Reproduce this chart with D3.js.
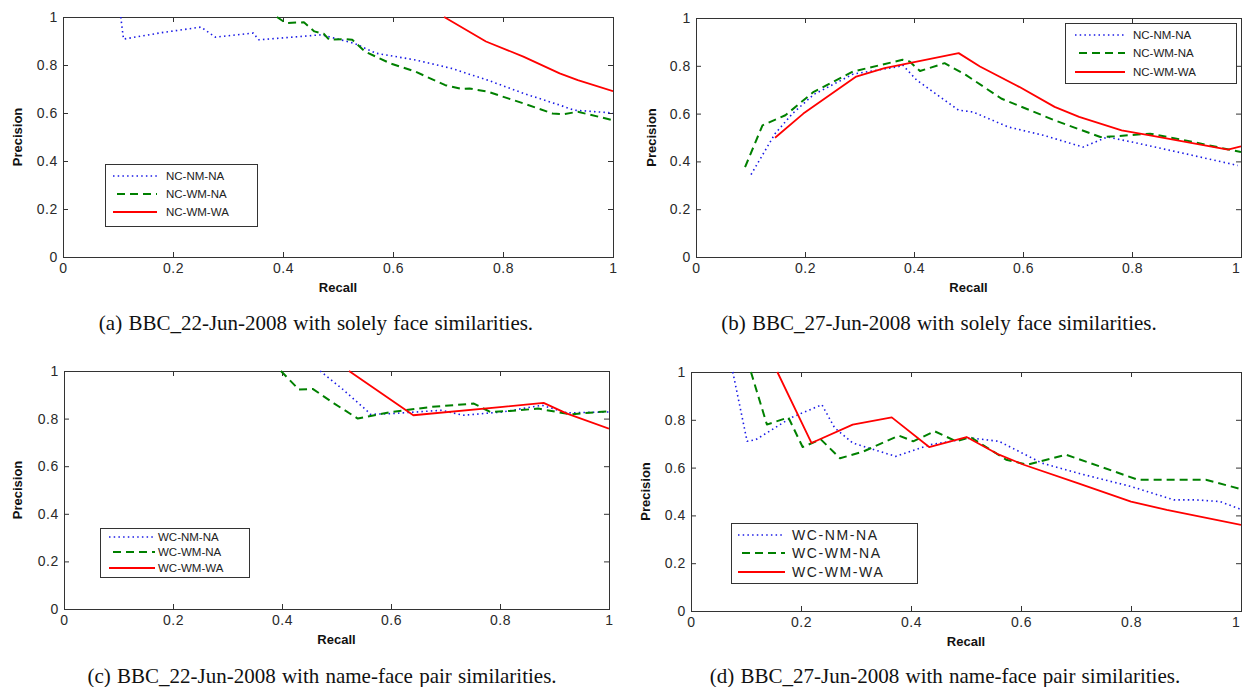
<!DOCTYPE html>
<html>
<head>
<meta charset="utf-8">
<script src="https://cdn.jsdelivr.net/npm/d3@7"></script>
<style>
  body { margin: 0; background: #fff; }
  svg { display: block; }
  .tick text { font-family: "Liberation Sans", Arial, sans-serif; font-size: 14px; letter-spacing: 0.6px; fill: #2a2a2a; }
  .tick line { stroke: #333; }
  .frame { fill: none; stroke: #333; stroke-width: 1; }
  .axlabel { font-family: "Liberation Sans", Arial, sans-serif; font-size: 13px; font-weight: bold; fill: #111; }
  .caption { font-family: "Liberation Serif", "Times New Roman", serif; font-size: 21px; word-spacing: 1px; fill: #111; }
  .legtext { font-family: "Liberation Sans", Arial, sans-serif; fill: #222; }
</style>
</head>
<body>
<svg id="chart" width="1243" height="687"></svg>
<script>
// recall / precision pairs
// (a) BBC_22-Jun-2008, face similarities
var a_nm_na = [[0.105,1.0],[0.11,0.908],[0.18,0.935],[0.251,0.958],[0.277,0.916],[0.346,0.933],[0.356,0.905],[0.47,0.926],[0.53,0.89],[0.569,0.849],[0.641,0.821],[0.706,0.786],[0.772,0.737],[0.837,0.682],[0.903,0.633],[0.929,0.612],[1.0,0.6]];
var a_wm_na = [[0.389,1.0],[0.405,0.975],[0.438,0.978],[0.457,0.94],[0.474,0.93],[0.484,0.905],[0.51,0.908],[0.526,0.905],[0.549,0.856],[0.595,0.807],[0.641,0.772],[0.695,0.716],[0.726,0.7],[0.739,0.702],[0.772,0.689],[0.837,0.64],[0.89,0.598],[0.909,0.595],[0.936,0.605],[1.0,0.57]];
var a_wm_wa = [[0.693,1.0],[0.769,0.898],[0.837,0.835],[0.903,0.765],[0.936,0.737],[1.0,0.691]];

// (b) BBC_27-Jun-2008, face similarities
var b_nm_na = [[0.101,0.345],[0.145,0.516],[0.177,0.6],[0.216,0.68],[0.288,0.765],[0.372,0.797],[0.379,0.804],[0.405,0.74],[0.482,0.614],[0.508,0.607],[0.573,0.544],[0.638,0.509],[0.71,0.46],[0.755,0.502],[0.8,0.481],[0.898,0.432],[0.994,0.383]];
var b_wm_na = [[0.09,0.376],[0.122,0.551],[0.164,0.593],[0.216,0.691],[0.288,0.776],[0.379,0.825],[0.392,0.818],[0.411,0.778],[0.456,0.811],[0.495,0.762],[0.56,0.663],[0.658,0.572],[0.742,0.502],[0.768,0.505],[0.833,0.516],[0.898,0.488],[1.0,0.439]];
var b_wm_wa = [[0.145,0.499],[0.197,0.6],[0.294,0.755],[0.346,0.79],[0.482,0.853],[0.521,0.797],[0.593,0.712],[0.658,0.628],[0.703,0.586],[0.781,0.53],[0.833,0.509],[0.976,0.449],[1.0,0.463]];

// (c) BBC_22-Jun-2008, name-face pair similarities
var c_nm_na = [[0.47,1.0],[0.51,0.926],[0.555,0.835],[0.562,0.818],[0.601,0.821],[0.693,0.835],[0.732,0.814],[0.805,0.828],[0.877,0.856],[0.923,0.824],[1.0,0.828]];
var c_wm_na = [[0.398,1.0],[0.431,0.922],[0.457,0.924],[0.496,0.863],[0.539,0.8],[0.601,0.828],[0.673,0.849],[0.752,0.863],[0.782,0.828],[0.818,0.832],[0.87,0.842],[0.929,0.818],[1.0,0.831]];
var c_wm_wa = [[0.523,1.0],[0.641,0.814],[0.805,0.849],[0.88,0.866],[0.923,0.821],[1.0,0.758]];

// (d) BBC_27-Jun-2008, name-face pair similarities
var d_nm_na = [[0.076,1.0],[0.102,0.71],[0.118,0.717],[0.183,0.81],[0.238,0.863],[0.261,0.767],[0.294,0.703],[0.372,0.647],[0.436,0.696],[0.508,0.724],[0.56,0.71],[0.638,0.619],[0.703,0.577],[0.8,0.521],[0.878,0.465],[0.917,0.465],[0.962,0.458],[1.0,0.425]];
var d_wm_na = [[0.109,1.0],[0.138,0.78],[0.177,0.81],[0.203,0.686],[0.236,0.718],[0.271,0.639],[0.313,0.667],[0.378,0.734],[0.404,0.71],[0.443,0.752],[0.482,0.71],[0.508,0.728],[0.573,0.633],[0.612,0.612],[0.682,0.654],[0.813,0.549],[0.936,0.549],[1.0,0.51]];
var d_wm_wa = [[0.157,1.0],[0.219,0.703],[0.294,0.78],[0.365,0.81],[0.433,0.686],[0.501,0.728],[0.56,0.654],[0.605,0.612],[0.703,0.535],[0.8,0.458],[0.865,0.423],[1.0,0.36]];

var namesNC = ["NC-NM-NA", "NC-WM-NA", "NC-WM-WA"];
var namesWC = ["WC-NM-NA", "WC-WM-NA", "WC-WM-WA"];
var ticks = [0, 0.2, 0.4, 0.6, 0.8, 1];

var captions = [
  "(a)  BBC_22-Jun-2008 with solely face similarities.",
  "(b)  BBC_27-Jun-2008 with solely face similarities.",
  "(c)  BBC_22-Jun-2008 with name-face pair similarities.",
  "(d)  BBC_27-Jun-2008 with name-face pair similarities."
];

// line styles: dotted blue, dashed green, solid red
var styles = [
  { color: "#1a1ae6", dash: "1.5,3.2", width: 1.6 },
  { color: "#008000", dash: "8,5", width: 2 },
  { color: "#ff0000", dash: null, width: 1.8 }
];

// panel layout
var panels = [
  { box: [63, 613, 17, 257], series: [a_nm_na, a_wm_na, a_wm_wa], names: namesNC,
    leg: { x: 105, y: 164, w: 152, h: 62, l0: 113, l1: 157, tx: 166, rows: [176, 194, 212], fs: 11.5, ls: 0 },
    cap: { x: 316, y: 330 }, ylab: 22 },
  { box: [696, 1241, 18, 257], series: [b_nm_na, b_wm_na, b_wm_wa], names: namesNC,
    leg: { x: 1065, y: 23, w: 171, h: 60, l0: 1075, l1: 1125, tx: 1133, rows: [35, 53, 72], fs: 11.5, ls: 0 },
    cap: { x: 939, y: 330 }, ylab: 656 },
  { box: [64, 609, 371, 609], series: [c_nm_na, c_wm_na, c_wm_wa], names: namesWC,
    leg: { x: 100, y: 528, w: 149, h: 49, l0: 109, l1: 155, tx: 158, rows: [537, 552, 568], fs: 11.5, ls: 0 },
    cap: { x: 322, y: 683 }, ylab: 22 },
  { box: [691, 1241, 372, 611], series: [d_nm_na, d_wm_na, d_wm_wa], names: namesWC,
    leg: { x: 731, y: 523, w: 186, h: 60, l0: 738, l1: 785, tx: 792, rows: [535, 553, 572], fs: 14, ls: 1.6 },
    cap: { x: 945, y: 683 }, ylab: 650 }
];

var svg = d3.select("#chart");
var fmt = function (d) { return String(+d.toFixed(1)); };

panels.forEach(function (p, pi) {
  var x = d3.scaleLinear().domain([0, 1]).range([p.box[0], p.box[1]]);
  var y = d3.scaleLinear().domain([0, 1]).range([p.box[3], p.box[2]]);
  var g = svg.append("g");

  var clipId = "clip" + pi;
  g.append("clipPath").attr("id", clipId).append("rect")
    .attr("x", p.box[0]).attr("y", p.box[2] - 1)
    .attr("width", p.box[1] - p.box[0]).attr("height", p.box[3] - p.box[2] + 2);

  // inward ticks on all four sides, matlab style
  var xb = g.append("g").attr("transform", "translate(0," + p.box[3] + ")")
    .call(d3.axisBottom(x).tickValues(ticks).tickFormat(fmt).tickSizeInner(-5).tickSizeOuter(0).tickPadding(6))
    .call(function (s) { s.select(".domain").remove(); });
  // last label sits at the page edge on the right-hand panels
  if (p.box[1] > 1200) {
    xb.selectAll(".tick text").filter(function (d) { return d === 1; })
      .attr("text-anchor", "end").attr("dx", "-1");
  }
  g.append("g").attr("transform", "translate(0," + p.box[2] + ")")
    .call(d3.axisTop(x).tickValues(ticks).tickFormat("").tickSizeInner(-5).tickSizeOuter(0))
    .call(function (s) { s.select(".domain").remove(); });
  g.append("g").attr("transform", "translate(" + p.box[0] + ",0)")
    .call(d3.axisLeft(y).tickValues(ticks).tickFormat(fmt).tickSizeInner(-5).tickSizeOuter(0).tickPadding(5))
    .call(function (s) { s.select(".domain").remove(); });
  g.append("g").attr("transform", "translate(" + p.box[1] + ",0)")
    .call(d3.axisRight(y).tickValues(ticks).tickFormat("").tickSizeInner(-5).tickSizeOuter(0))
    .call(function (s) { s.select(".domain").remove(); });

  g.append("rect").attr("class", "frame")
    .attr("x", p.box[0] + 0.5).attr("y", p.box[2] + 0.5)
    .attr("width", p.box[1] - p.box[0]).attr("height", p.box[3] - p.box[2]);

  var line = d3.line().x(function (d) { return x(d[0]); }).y(function (d) { return y(d[1]); });

  g.append("g").attr("clip-path", "url(#" + clipId + ")")
    .selectAll("path").data(p.series).enter().append("path")
    .attr("d", line)
    .attr("fill", "none")
    .attr("stroke", function (d, i) { return styles[i].color; })
    .attr("stroke-width", function (d, i) { return styles[i].width; })
    .attr("stroke-dasharray", function (d, i) { return styles[i].dash; })
    .attr("stroke-linejoin", "round");

  // axis titles
  g.append("text").attr("class", "axlabel")
    .attr("x", (p.box[0] + p.box[1]) / 2).attr("y", p.box[3] + 35)
    .attr("text-anchor", "middle").text("Recall");
  g.append("text").attr("class", "axlabel")
    .attr("transform", "translate(" + p.ylab + "," + (p.box[2] + p.box[3]) / 2 + ") rotate(-90)")
    .attr("text-anchor", "middle").text("Precision");

  // legend
  var L = p.leg;
  var lg = g.append("g");
  lg.append("rect").attr("x", L.x + 0.5).attr("y", L.y + 0.5)
    .attr("width", L.w).attr("height", L.h)
    .attr("fill", "#fff").attr("stroke", "#333").attr("stroke-width", 1);
  p.names.forEach(function (n, i) {
    lg.append("line")
      .attr("x1", L.l0 + (i === 1 ? 4 : 0)).attr("x2", L.l1)
      .attr("y1", L.rows[i]).attr("y2", L.rows[i])
      .attr("stroke", styles[i].color)
      .attr("stroke-width", styles[i].width)
      .attr("stroke-dasharray", styles[i].dash);
    lg.append("text").attr("class", "legtext")
      .attr("x", L.tx).attr("y", L.rows[i]).attr("dy", "0.35em")
      .style("font-size", L.fs + "px").style("letter-spacing", L.ls + "px")
      .text(n);
  });

  svg.append("text").attr("class", "caption")
    .attr("x", p.cap.x).attr("y", p.cap.y)
    .attr("text-anchor", "middle").text(captions[pi]);
});
</script>
</body>
</html>
